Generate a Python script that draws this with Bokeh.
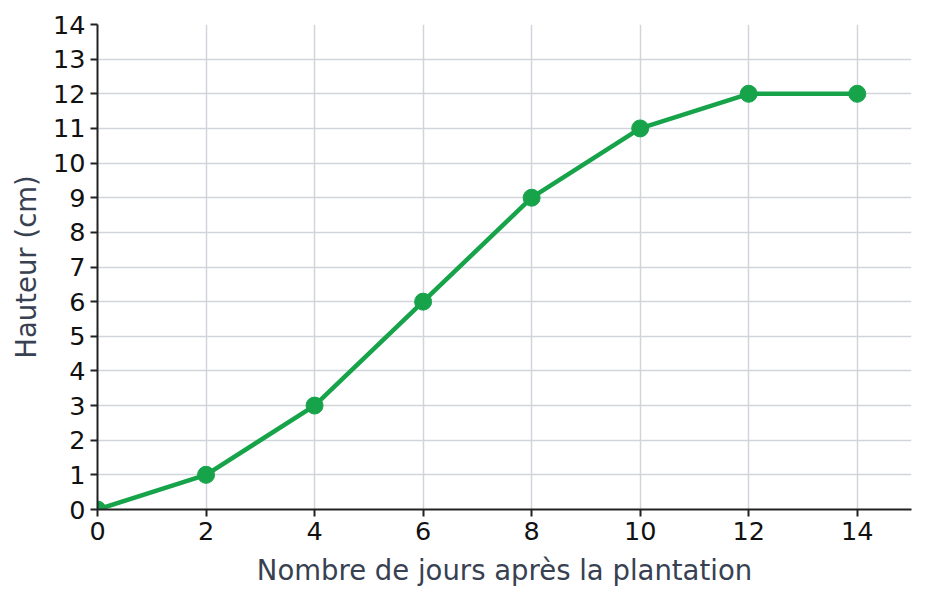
from bokeh.plotting import figure
from bokeh.models import FixedTicker, Range1d
from bokeh.embed import file_html
from bokeh.resources import INLINE

jours = [0, 2, 4, 6, 8, 10, 12, 14]
hauteur = [0, 1, 3, 6, 9, 11, 12, 12]
x_ticks = [0, 2, 4, 6, 8, 10, 12, 14]
y_ticks = list(range(0, 15))

GREEN = "#16a34a"
FONT = "DejaVu Sans"

p = figure(width=918, height=593, output_backend="svg", toolbar_location=None,
           x_range=Range1d(0, 15), y_range=Range1d(0, 14),
           min_border_left=97, min_border_right=7, min_border_top=24, min_border_bottom=84)
p.outline_line_color = None
p.background_fill_color = "white"
p.border_fill_color = "white"

p.line(jours, hauteur, line_color=GREEN, line_width=4.5)
p.scatter(jours, hauteur, size=17, fill_color=GREEN, line_color=GREEN)

for ax in (p.xaxis[0], p.yaxis[0]):
    ax.axis_line_color = "#222222"
    ax.axis_line_width = 2
    ax.major_tick_line_color = "#222222"
    ax.major_tick_line_width = 2
    ax.major_tick_out = 7
    ax.major_tick_in = 0
    ax.minor_tick_line_color = None
    ax.major_label_text_font = FONT
    ax.major_label_text_font_size = "25.5px"
    ax.major_label_text_color = "#111111"
    ax.axis_label_text_font = FONT
    ax.axis_label_text_font_size = "27.5px"
    ax.axis_label_text_font_style = "normal"
    ax.axis_label_text_color = "#374151"

p.xaxis.ticker = FixedTicker(ticks=x_ticks)
p.yaxis.ticker = FixedTicker(ticks=y_ticks)
p.xaxis.axis_label = "Nombre de jours après la plantation"
p.yaxis.axis_label = "Hauteur (cm)"
p.xaxis.major_label_standoff = 5
p.yaxis.major_label_standoff = 5
p.xaxis.axis_label_standoff = 11
p.yaxis.axis_label_standoff = 8

p.xgrid.ticker = FixedTicker(ticks=x_ticks)
p.ygrid.ticker = FixedTicker(ticks=y_ticks)
for g in (p.xgrid[0], p.ygrid[0]):
    g.grid_line_color = "#d1d5db"
    g.grid_line_width = 1.5

open("out.html", "w").write(file_html(p, INLINE))
